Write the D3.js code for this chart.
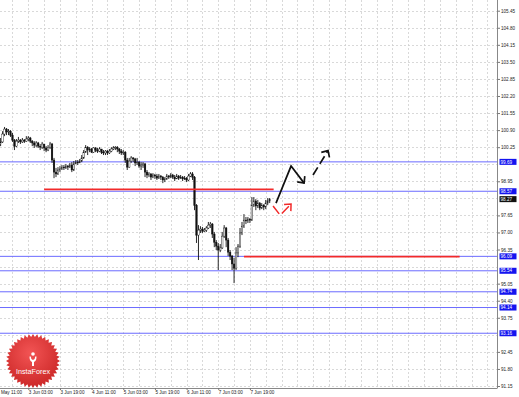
<!DOCTYPE html>
<html>
<head>
<meta charset="utf-8">
<script src="https://cdnjs.cloudflare.com/ajax/libs/d3/7.8.5/d3.min.js"></script>
<style>
    body {margin: 0; background: #fff;}
    svg {display: block; font-family: "Liberation Sans", Arial, sans-serif;}
    .price-axis text, .time-axis text {font-size: 4.6px; fill: #222;}
    .price-axis line, .time-axis line {stroke: #777;}
    .grid line {stroke: #cfcfcf; stroke-width: 0.8; stroke-dasharray: 2,2;}
    .level-label {font-size: 4.6px; fill: #fff;}
</style>
</head>
<body>
<div id="chart"></div>
<script>
    // hourly bars
    const closes = [100.45,100.75,100.94,100.83,100.86,100.71,100.52,100.29,100.48,100.52,
        100.45,100.52,100.48,100.56,100.60,100.48,100.41,100.33,100.41,100.29,
        100.25,100.37,100.22,100.14,100.25,100.37,99.76,99.30,99.23,99.38,
        99.42,99.49,99.46,99.53,99.49,99.57,99.38,99.61,99.68,99.65,
        99.72,99.84,100.06,100.25,100.14,100.18,100.06,100.22,100.14,100.10,
        100.18,100.06,100.03,100.10,100.03,100.10,100.18,100.22,100.25,100.18,
        100.10,100.03,100.06,99.76,99.49,99.72,99.84,99.80,99.65,99.68,
        99.53,99.57,99.61,99.30,99.19,99.23,99.11,99.19,99.15,99.07,
        99.15,99.11,99.00,99.04,99.15,99.11,99.19,99.11,99.04,99.15,
        99.07,99.11,99.04,99.07,99.00,99.15,99.23,99.11,98.04,96.90,
        97.09,97.13,97.05,97.09,97.17,97.28,97.32,96.94,96.63,96.48,
        96.33,96.41,96.86,97.17,96.71,96.25,96.10,95.80,95.64,96.22,
        96.48,96.98,97.24,97.47,97.44,97.51,97.47,98.04,98.20,98.01,
        98.12,97.93,98.04,97.97,98.12,98.20,98.27];

    const highs = [100.60,100.86,101.02,100.98,100.94,100.90,100.79,100.56,100.56,100.64,
        100.56,100.60,100.56,100.67,100.67,100.64,100.52,100.48,100.48,100.45,
        100.37,100.45,100.37,100.29,100.33,100.45,100.41,99.84,99.46,99.49,
        99.53,99.57,99.57,99.61,99.57,99.65,99.68,99.72,99.76,99.76,
        99.80,99.95,100.14,100.33,100.29,100.25,100.22,100.25,100.25,100.22,
        100.25,100.18,100.14,100.14,100.14,100.18,100.25,100.29,100.29,100.29,
        100.22,100.18,100.14,100.10,99.84,99.84,99.91,99.87,99.84,99.84,
        99.72,99.68,99.68,99.65,99.38,99.30,99.26,99.26,99.23,99.23,
        99.23,99.19,99.15,99.11,99.23,99.19,99.26,99.23,99.19,99.23,
        99.19,99.19,99.15,99.15,99.11,99.23,99.30,99.30,99.15,98.08,
        97.28,97.24,97.21,97.17,97.24,97.40,97.40,97.36,97.02,96.71,
        96.60,96.56,97.02,97.28,97.21,96.79,96.33,96.14,96.03,96.44,
        96.56,97.17,97.40,97.70,97.59,97.59,97.55,98.35,98.35,98.27,
        98.24,98.16,98.12,98.08,98.24,98.31,98.31];

    const lows = [100.29,100.41,100.67,100.71,100.71,100.64,100.45,100.14,100.25,100.41,
        100.37,100.41,100.41,100.45,100.48,100.41,100.29,100.22,100.25,100.22,
        100.14,100.18,100.10,100.06,100.10,100.18,99.65,99.07,99.11,99.19,
        99.30,99.38,99.38,99.42,99.38,99.46,99.30,99.34,99.61,99.57,
        99.65,99.68,99.80,100.03,99.95,100.06,100.03,100.03,100.06,100.03,
        100.06,99.99,99.95,99.95,99.95,99.99,100.06,100.14,100.14,100.06,
        99.99,99.95,99.95,99.65,99.38,99.46,99.65,99.68,99.53,99.57,
        99.46,99.38,99.46,99.11,99.07,99.11,99.00,99.07,99.04,99.00,
        99.04,99.00,98.88,98.92,99.00,99.04,99.07,99.04,98.96,99.04,
        99.00,99.04,98.96,99.00,98.92,98.96,99.11,99.00,97.85,96.60,
        95.95,96.98,96.98,97.02,97.02,97.13,97.17,96.79,96.44,96.33,
        95.57,96.25,96.37,96.79,96.44,96.10,95.95,95.57,95.07,95.57,
        96.06,96.41,96.90,97.17,97.32,97.36,97.36,97.44,97.97,97.85,
        97.93,97.85,97.89,97.85,97.89,98.04,98.12];

    const firstOpen = 100.38;

    const timeTicks = [-2, 14, 30, 46, 62, 78, 94, 110, 126];
    const timeLabels = ["May 11:00", "3 Jun 03:00", "3 Jun 19:00", "4 Jun 11:00", "5 Jun 03:00",
        "5 Jun 19:00", "6 Jun 11:00", "7 Jun 03:00", "7 Jun 19:00"];

    const priceTicks = [105.45, 104.80, 104.15, 103.50, 102.85, 102.20, 101.55, 100.90, 100.25, 99.60,
        98.95, 98.30, 97.65, 97.00, 96.35, 95.70, 95.05, 94.40, 93.75, 93.10, 92.45, 91.80, 91.15];

    const blueLevels = [99.69, 98.57, 96.09, 95.54, 94.74, 94.14, 93.16];
    const lastPrice = 98.27;

    const redPrices = [98.64, 96.08];
    const redFrom = [22, 123];
    const redTo = [138, 232];

    // forecast arrows as [bar, price]
    const solidArrow = [[139.2, 98.12], [146.8, 99.53], [153.4, 98.88]];
    const dashedArrow = [[157.9, 99.19], [165.5, 100.12]];
    const redArrow = [[137.7, 98.01], [141.3, 97.66], [146.8, 98.08]];

    const W = 519, H = 397;
    const plotRight = 497.5, plotBottom = 388;

    let x = d3.scaleLinear().domain([14, 126]).range([28.3, 249.9]);
    let y = d3.scaleLinear().domain([91.15, 105.45]).range([386, 10.7]);

    let svg = d3.select("#chart").append("svg")
        .attr("width", W)
        .attr("height", H);

    svg.append("defs").append("clipPath")
        .attr("id", "plot-clip")
        .append("rect")
        .attr("width", plotRight)
        .attr("height", plotBottom);

    let grad = svg.select("defs").append("radialGradient")
        .attr("id", "logo-grad")
        .attr("cx", "45%").attr("cy", "35%").attr("r", "70%");
    grad.append("stop").attr("offset", "0%").attr("stop-color", "#f25454");
    grad.append("stop").attr("offset", "100%").attr("stop-color", "#c92424");

    let plot = svg.append("g").attr("clip-path", "url(#plot-clip)");

    // grid
    let grid = plot.append("g").attr("class", "grid");
    grid.selectAll(".vgrid")
        .data(d3.range(-2, 260, 8))
        .enter().append("line")
        .attr("x1", d => Math.round(x(d)) + 0.5)
        .attr("x2", d => Math.round(x(d)) + 0.5)
        .attr("y1", 0)
        .attr("y2", plotBottom);
    grid.selectAll(".hgrid")
        .data(priceTicks)
        .enter().append("line")
        .attr("x1", 0)
        .attr("x2", plotRight)
        .attr("y1", d => Math.round(y(d)) + 0.5)
        .attr("y2", d => Math.round(y(d)) + 0.5);

    // support / resistance levels
    plot.selectAll(".level")
        .data(blueLevels)
        .enter().append("line")
        .attr("x1", 0)
        .attr("x2", plotRight)
        .attr("y1", d => y(d))
        .attr("y2", d => y(d))
        .style("stroke", "#6b6bff")
        .style("stroke-width", 1);

    // bars
    let bars = closes.map((c, i) => ({
        i: i,
        open: i === 0 ? firstOpen : closes[i - 1],
        close: c,
        high: highs[i],
        low: lows[i]
    }));

    let candles = plot.append("g");
    candles.selectAll(".wick")
        .data(bars)
        .enter().append("line")
        .attr("x1", d => x(d.i))
        .attr("x2", d => x(d.i))
        .attr("y1", d => y(d.high))
        .attr("y2", d => y(d.low))
        .style("stroke", "#111")
        .style("stroke-width", 0.9);
    candles.selectAll(".body")
        .data(bars)
        .enter().append("rect")
        .attr("x", d => x(d.i) - 0.8)
        .attr("width", 1.6)
        .attr("y", d => y(Math.max(d.open, d.close)))
        .attr("height", d => Math.max(0.6, Math.abs(y(d.open) - y(d.close))))
        .style("fill", d => d.close >= d.open ? "#fff" : "#111")
        .style("stroke", "#111")
        .style("stroke-width", 0.4);

    // red levels
    plot.selectAll(".red-level")
        .data(redPrices)
        .enter().append("line")
        .attr("x1", (d, i) => x(redFrom[i]))
        .attr("x2", (d, i) => x(redTo[i]))
        .attr("y1", d => y(d))
        .attr("y2", d => y(d))
        .style("stroke", "#f22a2a")
        .style("stroke-width", 1.8);

    // arrows
    let line = d3.line().x(d => x(d[0])).y(d => y(d[1]));

    function arrowHead(pts, len) {
        let a = pts[pts.length - 2], b = pts[pts.length - 1];
        let x1 = x(a[0]), y1 = y(a[1]), x2 = x(b[0]), y2 = y(b[1]);
        let ang = Math.atan2(y2 - y1, x2 - x1) + Math.PI;
        let s = 0.75;
        return "M" + (x2 + len * Math.cos(ang + s)) + "," + (y2 + len * Math.sin(ang + s)) +
            "L" + x2 + "," + y2 +
            "L" + (x2 + len * Math.cos(ang - s)) + "," + (y2 + len * Math.sin(ang - s));
    }

    function drawArrow(pts, color, dash, width) {
        plot.append("path")
            .datum(pts)
            .attr("d", line)
            .style("fill", "none")
            .style("stroke", color)
            .style("stroke-width", width)
            .style("stroke-dasharray", dash);
        plot.append("path")
            .attr("d", arrowHead(pts, 7))
            .style("fill", "none")
            .style("stroke", color)
            .style("stroke-width", width);
    }

    drawArrow(solidArrow, "#111", null, 1.7);
    drawArrow(dashedArrow, "#111", "9,4", 1.7);
    drawArrow(redArrow, "#f22a2a", "10,4", 1.5);

    // axes
    svg.append("line")
        .attr("x1", plotRight).attr("x2", plotRight)
        .attr("y1", 0).attr("y2", plotBottom)
        .style("stroke", "#888");
    svg.append("line")
        .attr("x1", 0).attr("x2", plotRight)
        .attr("y1", plotBottom + 0.5).attr("y2", plotBottom + 0.5)
        .style("stroke", "#888");

    let allLevels = blueLevels.concat([lastPrice]);
    let shownTicks = priceTicks.filter(p => allLevels.every(l => Math.abs(y(p) - y(l)) > 4.5));

    let yAxis = d3.axisRight(y)
        .tickValues(shownTicks)
        .tickSize(2.5)
        .tickPadding(1)
        .tickFormat(d3.format(".2f"));

    svg.append("g")
        .attr("class", "price-axis")
        .attr("transform", "translate(" + plotRight + ",0)")
        .call(yAxis)
        .call(g => g.select(".domain").remove());

    let xAxis = d3.axisBottom(x)
        .tickValues(timeTicks)
        .tickSize(2)
        .tickPadding(1)
        .tickFormat((d, i) => timeLabels[i]);

    svg.append("g")
        .attr("class", "time-axis")
        .attr("transform", "translate(0," + plotBottom + ")")
        .call(xAxis)
        .call(g => g.select(".domain").remove())
        .selectAll("text")
        .style("text-anchor", "start")
        // the first label sits at the chart's left edge
        .attr("x", d => Math.max(0, -x(d) + 0.5));

    // level tags on the price scale
    let tags = svg.append("g");
    let tagData = blueLevels.map(d => ({p: d, fill: "#1414f0"})).concat([{p: lastPrice, fill: "#111"}]);
    tags.selectAll("rect")
        .data(tagData)
        .enter().append("rect")
        .attr("x", plotRight + 2)
        .attr("y", d => y(d.p) - 3)
        .attr("width", 17)
        .attr("height", 6)
        .style("fill", d => d.fill);
    tags.selectAll("text")
        .data(tagData)
        .enter().append("text")
        .attr("class", "level-label")
        .attr("x", plotRight + 3)
        .attr("y", d => y(d.p) + 1.7)
        .text(d => d.p.toFixed(2));

    // InstaForex badge
    let logo = svg.append("g").attr("transform", "translate(33,361)");
    let spikes = 40;
    let starPts = d3.range(spikes * 2).map(k => {
        let r = k % 2 === 0 ? 27 : 24;
        let a = k * Math.PI / spikes - Math.PI / 2;
        return [r * Math.cos(a), r * Math.sin(a)];
    });
    logo.append("path")
        .attr("d", "M" + starPts.join("L") + "Z")
        .style("fill", "url(#logo-grad)");
    logo.append("circle")
        .attr("cx", 0).attr("cy", -7).attr("r", 1.8)
        .style("fill", "#fff");
    logo.append("path")
        .attr("d", "M-3.5,-4.5 Q-3.5,0 -1,1 L-1,5 L1,5 L1,1 Q3.5,0 3.5,-4.5 L2.2,-4.5 Q2.2,-1.5 0,-1 Q-2.2,-1.5 -2.2,-4.5 Z")
        .style("fill", "#fff");
    logo.append("text")
        .attr("x", 0)
        .attr("y", 13)
        .attr("text-anchor", "middle")
        .style("font-size", "7.2px")
        .style("fill", "#fff")
        .text("InstaForex");
</script>
</body>
</html>
